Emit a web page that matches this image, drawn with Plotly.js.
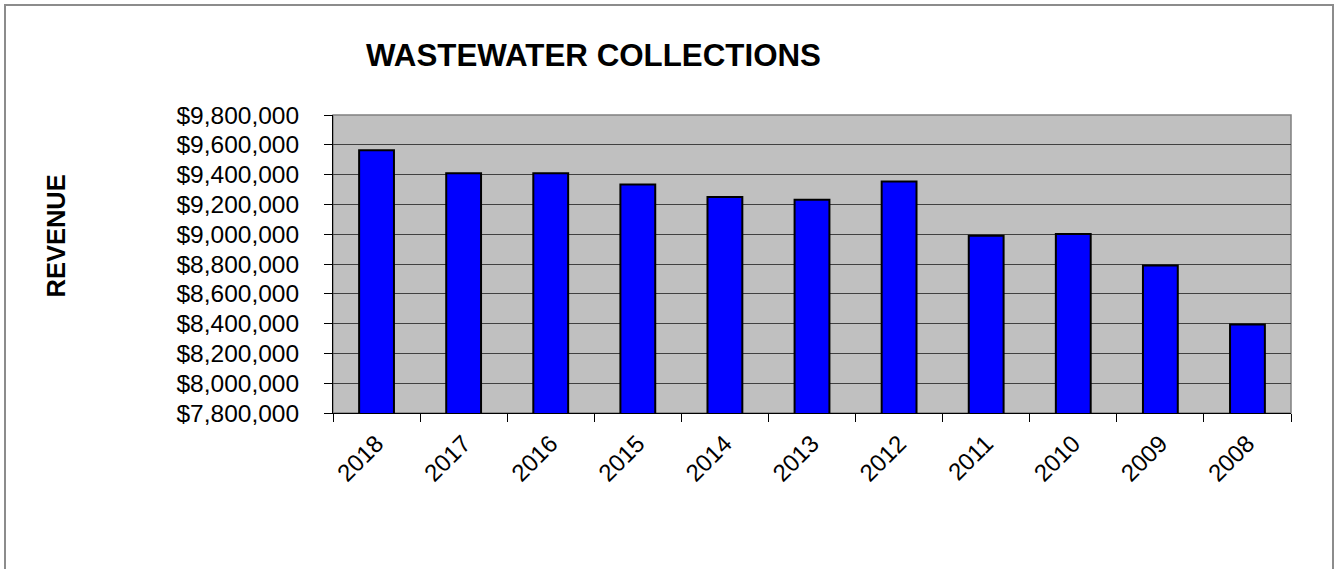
<!DOCTYPE html>
<html>
<head>
<meta charset="utf-8">
<script src="https://cdn.plot.ly/plotly-3.0.1.min.js"></script>
<style>
  html, body { margin: 0; padding: 0; background: #ffffff; overflow: hidden; }
  #chart { width: 1336px; height: 569px; position: absolute; left: 0; top: 0; }
  #frame { position: absolute; left: 4px; top: 4px; width: 1330px; height: 580px;
           border: 2px solid #8c8c8c; pointer-events: none; box-sizing: border-box; }
</style>
</head>
<body>
<div id="chart"></div>
<div id="frame"></div>
<script>
const years = ["2018", "2017", "2016", "2015", "2014", "2013", "2012", "2011", "2010", "2009", "2008"];
const revenue = [9563000, 9409000, 9409000, 9333000, 9250000, 9232000, 9353000, 8989000, 9002000, 8790000, 8394000];
const chartTitle = "WASTEWATER COLLECTIONS";
const yTitle = "REVENUE";

const FONT = "Liberation Sans, Arial, sans-serif";

const trace = {
  type: "bar",
  x: years,
  y: revenue,
  marker: { color: "#0000ff", line: { color: "#000000", width: 2 } },
  hoverinfo: "x+y"
};

const layout = {
  width: 1336,
  height: 569,
  margin: { l: 333, r: 45, t: 115, b: 156 },
  paper_bgcolor: "#ffffff",
  plot_bgcolor: "#c0c0c0",
  showlegend: false,
  bargap: 0.6,
  font: { family: FONT, color: "#000000" },
  xaxis: {
    type: "category",
    tickangle: -45,
    tickfont: { size: 24, family: FONT, color: "#000000" },
    ticklabelstandoff: 6,
    showline: true,
    linecolor: "#000000",
    linewidth: 1,
    ticks: "outside",
    tickson: "boundaries",
    ticklen: 8,
    tickcolor: "#000000",
    showgrid: false,
    zeroline: false,
    fixedrange: true
  },
  yaxis: {
    range: [7800000, 9800000],
    dtick: 200000,
    tick0: 7800000,
    tickprefix: "$",
    tickformat: ",d",
    tickfont: { size: 24.5, family: FONT, color: "#000000" },
    ticklabelstandoff: 20,
    showline: true,
    linecolor: "#000000",
    linewidth: 1,
    ticks: "outside",
    ticklen: 8,
    tickcolor: "#000000",
    showgrid: true,
    gridcolor: "#404040",
    gridwidth: 1,
    zeroline: false,
    fixedrange: true
  },
  shapes: [
    { type: "rect", xref: "paper", yref: "paper", x0: 0, x1: 1, y0: 0, y1: 1,
      line: { color: "#808080", width: 1.5 }, layer: "below" }
  ],
  annotations: [
    { text: "<b>" + chartTitle + "</b>", xref: "paper", yref: "paper",
      x: (593 - 333) / 958, y: 1 + (115 - 55) / 298, xanchor: "center", yanchor: "middle",
      showarrow: false, font: { size: 31.3, family: FONT, color: "#000000" } },
    { text: "<b>" + yTitle + "</b>", xref: "paper", yref: "paper",
      x: (55 - 333) / 958, y: (413 - 236.5) / 298, xanchor: "center", yanchor: "middle",
      textangle: -90, showarrow: false, font: { size: 25.5, family: FONT, color: "#000000" } }
  ]
};

Plotly.newPlot("chart", [trace], layout, { displayModeBar: false, staticPlot: true });
</script>
</body>
</html>
